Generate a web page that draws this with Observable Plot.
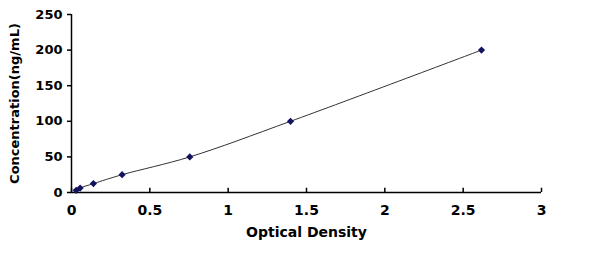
<!DOCTYPE html>
<html>
<head>
<meta charset="utf-8">
<script src="https://cdn.jsdelivr.net/npm/d3@7"></script>
<script src="https://cdn.jsdelivr.net/npm/@observablehq/plot@0.6"></script>
<style>
  html, body { margin: 0; padding: 0; background: #fff; }
</style>
</head>
<body>
<div id="chart"></div>
<script>
const od = [0.03, 0.055, 0.14, 0.323, 0.755, 1.398, 2.617];
const conc = [3.12, 6.25, 12.5, 25, 50, 100, 200];
const xTicks = [0, 0.5, 1, 1.5, 2, 2.5, 3];
const yTicks = [0, 50, 100, 150, 200, 250];

const data = od.map((x, i) => ({x, y: conc[i]}));
const font = {fontSize: 14, fontWeight: "bold", fontFamily: "DejaVu Sans, Liberation Sans, sans-serif"};

// Excel-style square diamond marker
const squareDiamond = {
  draw(context, size) {
    const r = Math.sqrt(size / Math.PI);
    context.moveTo(0, -r);
    context.lineTo(r, 0);
    context.lineTo(0, r);
    context.lineTo(-r, 0);
    context.closePath();
  }
};

const chart = Plot.plot({
  width: 600,
  height: 262,
  marginLeft: 71,
  marginRight: 59,
  marginTop: 14,
  marginBottom: 70,
  style: {fontFamily: "DejaVu Sans, Liberation Sans, sans-serif", fontSize: "14px", fontWeight: "bold", color: "#000", background: "#fff"},
  x: {domain: [0, 3]},
  y: {domain: [0, 250]},
  marks: [
    Plot.axisX(xTicks, {tickSize: 0, tickPadding: 13, tickFormat: d => String(d), label: "Optical Density", labelAnchor: "center", labelArrow: "none", labelOffset: 44, ...font}),
    Plot.axisY(yTicks, {tickSize: 4, tickPadding: 5, strokeWidth: 1.5, tickFormat: d => String(d), label: "Concentration(ng/mL)", labelAnchor: "center", labelArrow: "none", labelOffset: 62, ...font, fontSize: 13}),
    Plot.ruleX(xTicks, {x: d => d, y1: 0, y2: 6, stroke: "#000", strokeWidth: 1.5}),
    Plot.ruleY([0], {stroke: "#000", strokeWidth: 1.5}),
    Plot.ruleX([0], {stroke: "#000", strokeWidth: 1.5}),
    Plot.line(data, {x: "x", y: "y", curve: "catmull-rom", stroke: "#333", strokeWidth: 1}),
    Plot.dot(data, {x: "x", y: "y", symbol: squareDiamond, r: 3.6, fill: "#12125e", stroke: "none"})
  ]
});
document.getElementById("chart").appendChild(chart);
</script>
</body>
</html>
